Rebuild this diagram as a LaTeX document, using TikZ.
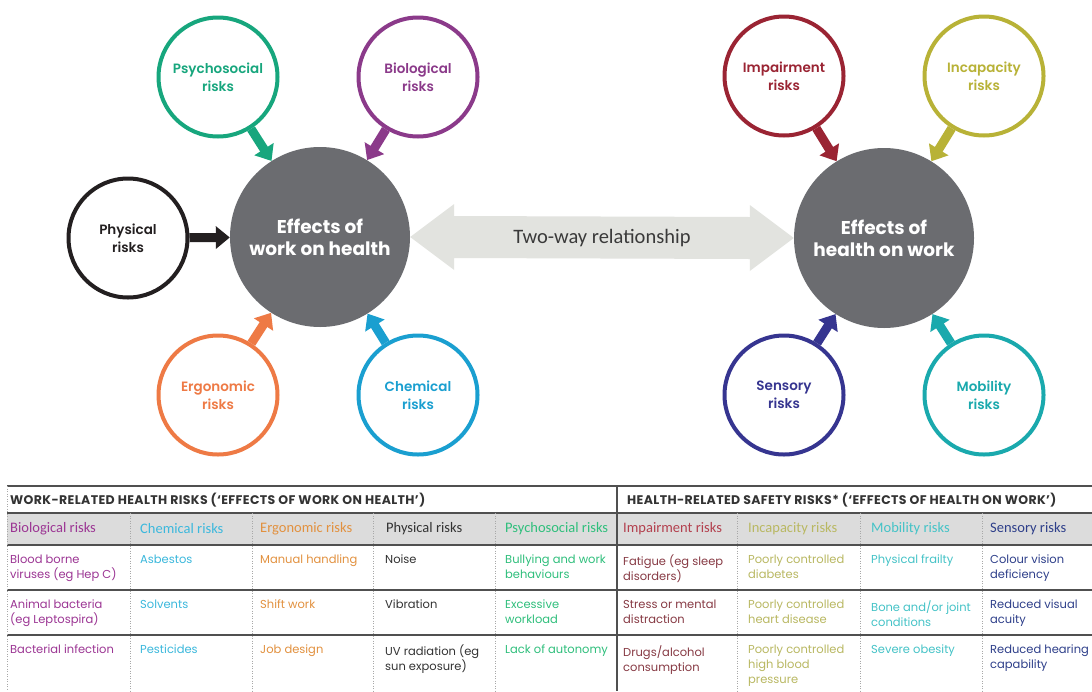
\documentclass[tikz,border=0pt]{standalone}
\usepackage{fontspec}
\setmainfont{Poppins}
\newfontfamily\popmed{Poppins SemiBold}
\newfontfamily\carl{Carlito}
\newfontfamily\pophead{Poppins}[LetterSpace=3]
\usetikzlibrary{arrows.meta,calc}
\definecolor{cpsy}{HTML}{17A67D}
\definecolor{cbio}{HTML}{8B3A8A}
\definecolor{cphy}{HTML}{231F20}
\definecolor{cerg}{HTML}{EE7A45}
\definecolor{cche}{HTML}{1A9FD0}
\definecolor{cimp}{HTML}{9A2433}
\definecolor{cinc}{HTML}{B8B237}
\definecolor{csen}{HTML}{363590}
\definecolor{cmob}{HTML}{1AA9AD}
\definecolor{hubgrey}{HTML}{6B6C70}
\definecolor{twgrey}{HTML}{E2E3DF}
\definecolor{twtext}{HTML}{3A3A3A}
\definecolor{bandgrey}{HTML}{DCDCDC}
\definecolor{rulegrey}{HTML}{505050}
\definecolor{dotgrey}{HTML}{A8A8A8}
\definecolor{tbio}{HTML}{9C3694}
\definecolor{tche}{HTML}{3BB8DC}
\definecolor{terg}{HTML}{E2913F}
\definecolor{tphy}{HTML}{333333}
\definecolor{tpsy}{HTML}{2FBF7C}
\definecolor{timp}{HTML}{B3404E}
\definecolor{timpb}{HTML}{873A44}
\definecolor{tinc}{HTML}{B9B862}
\definecolor{tmob}{HTML}{45C3C7}
\definecolor{tsen}{HTML}{2E3F8A}
\begin{document}
\begin{tikzpicture}[x=1pt,y=-1pt,
  risk/.style={circle,draw,line width=4pt,minimum size=119pt,inner sep=0pt,align=center,
    font=\popmed\fontsize{13.5}{18}\selectfont},
  hub/.style={circle,fill=hubgrey,minimum size=180pt,inner sep=0pt,align=center,text=white,
    font=\bfseries\fontsize{18.5}{22}\selectfont},
  arr/.style={line width=9pt,-{Triangle[width=22pt,length=14pt]}},
  twoway/.style={fill=twgrey},
  twlabel/.style={text=twtext,font=\carl\fontsize{20.5}{24}\selectfont,inner sep=0pt},
  rule/.style={draw=rulegrey,line width=1.6pt},
  dotrule/.style={draw=dotgrey,line width=0.8pt,dash pattern=on 1pt off 1.5pt},
  toph/.style={anchor=west,inner sep=0pt,text=tphy,font=\pophead\bfseries\fontsize{12.5}{14}\selectfont},
  colh/.style={anchor=west,inner sep=0pt,font=\carl\fontsize{14.5}{16}\selectfont},
  cell/.style={anchor=north west,inner sep=0pt,align=left,font=\fontsize{11.5}{15}\selectfont}
]
\fill[white] (0,0) rectangle (1092,691);
\useasboundingbox (0,0) rectangle (1092,691);

% ---------- left cluster ----------
\node[hub] (L) at (320,237) {Effects of\\work on health};
\node[risk,draw=cpsy,text=cpsy] (psy) at (218,77) {Psychosocial\\risks};
\node[risk,draw=cbio,text=cbio] (bio) at (418,77) {Biological\\risks};
\node[risk,draw=cphy,text=cphy] (phy) at (128,238) {Physical\\risks};
\node[risk,draw=cerg,text=cerg] (erg) at (218,395) {Ergonomic\\risks};
\node[risk,draw=cche,text=cche] (che) at (418,395) {Chemical\\risks};
\draw[arr,cpsy] (psy) -- (L);
\draw[arr,cbio] (bio) -- (L);
\draw[arr,cphy] (phy) -- (L);
\draw[arr,cerg] (erg) -- (L);
\draw[arr,cche] (che) -- (L);

% ---------- right cluster ----------
\node[hub] (R) at (884,238) {Effects of\\health on work};
\node[risk,draw=cimp,text=cimp] (imp) at (784,76) {Impairment\\risks};
\node[risk,draw=cinc,text=cinc] (inc) at (984,76) {Incapacity\\risks};
\node[risk,draw=csen,text=csen] (sen) at (784,395) {Sensory\\risks};
\node[risk,draw=cmob,text=cmob] (mob) at (984,395) {Mobility\\risks};
\draw[arr,cimp] (imp) -- (R);
\draw[arr,cinc] (inc) -- (R);
\draw[arr,csen] (sen) -- (R);
\draw[arr,cmob] (mob) -- (R);

% ---------- two-way arrow ----------
\coordinate (ta) at (L.east);
\coordinate (tb) at (R.west);
\fill[twoway] (ta) -- ($(ta)+(44,-33)$) -- ($(ta)+(44,-21)$) -- ($(tb)+(-44,-21)$)
  -- ($(tb)+(-44,-33)$) -- (tb) -- ($(tb)+(-44,33)$) -- ($(tb)+(-44,21)$)
  -- ($(ta)+(44,21)$) -- ($(ta)+(44,33)$) -- cycle;
\node[twlabel] (tw) at ($(ta)!0.5!(tb)+(0,1)$) {Two-way relationship};

% ---------- table ----------
\fill[bandgrey] (7,513) rectangle (1092,545);
\foreach \yy in {486,513,545,590,635} \draw[rule] (7,\yy) -- (1092,\yy);
\draw[dotrule] (7,486) -- (7,691);
\foreach \xx in {130,252,373,495,737,860,982} \draw[dotrule] (\xx,513) -- (\xx,691);
\draw[rule] (617,486) -- (617,691);

\node[toph] (th1) at (10,500) {WORK-RELATED HEALTH RISKS (‘EFFECTS OF WORK ON HEALTH’)};
\node[toph] (th2) at (627,500) {HEALTH-RELATED SAFETY RISKS* (‘EFFECTS OF HEALTH ON WORK’)};

\node[colh,text=tbio] (h1) at (10,529) {Biological risks};
\node[colh,text=tche] (h2) at (140,529) {Chemical risks};
\node[colh,text=terg] (h3) at (260,529) {Ergonomic risks};
\node[colh,text=tphy] (h4) at (386,529) {Physical risks};
\node[colh,text=tpsy] (h5) at (505,529) {Psychosocial risks};
\node[colh,text=timp] (h6) at (623,529) {Impairment risks};
\node[colh,text=tinc] (h7) at (748,529) {Incapacity risks};
\node[colh,text=tmob] (h8) at (871,529) {Mobility risks};
\node[colh,text=tsen] (h9) at (990,529) {Sensory risks};

\node[cell,text=tbio] (a1) at (10,555) {Blood borne\\viruses (eg Hep C)};
\node[cell,text=tche] (a2) at (140,555) {Asbestos};
\node[cell,text=terg] (a3) at (260,555) {Manual handling};
\node[cell,text=tphy] (a4) at (385,555) {Noise};
\node[cell,text=tpsy] (a5) at (505,555) {Bullying and work\\behaviours};
\node[cell,text=timpb] (a6) at (623,555) {Fatigue (eg sleep\\disorders)};
\node[cell,text=tinc] (a7) at (748,555) {Poorly controlled\\diabetes};
\node[cell,text=tmob] (a8) at (871,555) {Physical frailty};
\node[cell,text=tsen] (a9) at (990,555) {Colour vision\\deficiency};

\node[cell,text=tbio] (b1) at (10,600) {Animal bacteria\\(eg Leptospira)};
\node[cell,text=tche] (b2) at (140,600) {Solvents};
\node[cell,text=terg] (b3) at (260,600) {Shift work};
\node[cell,text=tphy] (b4) at (385,600) {Vibration};
\node[cell,text=tpsy] (b5) at (505,600) {Excessive\\workload};
\node[cell,text=timpb] (b6) at (623,600) {Stress or mental\\distraction};
\node[cell,text=tinc] (b7) at (748,600) {Poorly controlled\\heart disease};
\node[cell,text=tmob] (b8) at (871,600) {Bone and/or joint\\conditions};
\node[cell,text=tsen] (b9) at (990,600) {Reduced visual\\acuity};

\node[cell,text=tbio] (c1) at (10,645) {Bacterial infection};
\node[cell,text=tche] (c2) at (140,645) {Pesticides};
\node[cell,text=terg] (c3) at (260,645) {Job design};
\node[cell,text=tphy] (c4) at (385,645) {UV radiation (eg\\sun exposure)};
\node[cell,text=tpsy] (c5) at (505,645) {Lack of autonomy};
\node[cell,text=timpb] (c6) at (623,645) {Drugs/alcohol\\consumption};
\node[cell,text=tinc] (c7) at (748,645) {Poorly controlled\\high blood\\pressure};
\node[cell,text=tmob] (c8) at (871,645) {Severe obesity};
\node[cell,text=tsen] (c9) at (990,645) {Reduced hearing\\capability};
\end{tikzpicture}
\end{document}
